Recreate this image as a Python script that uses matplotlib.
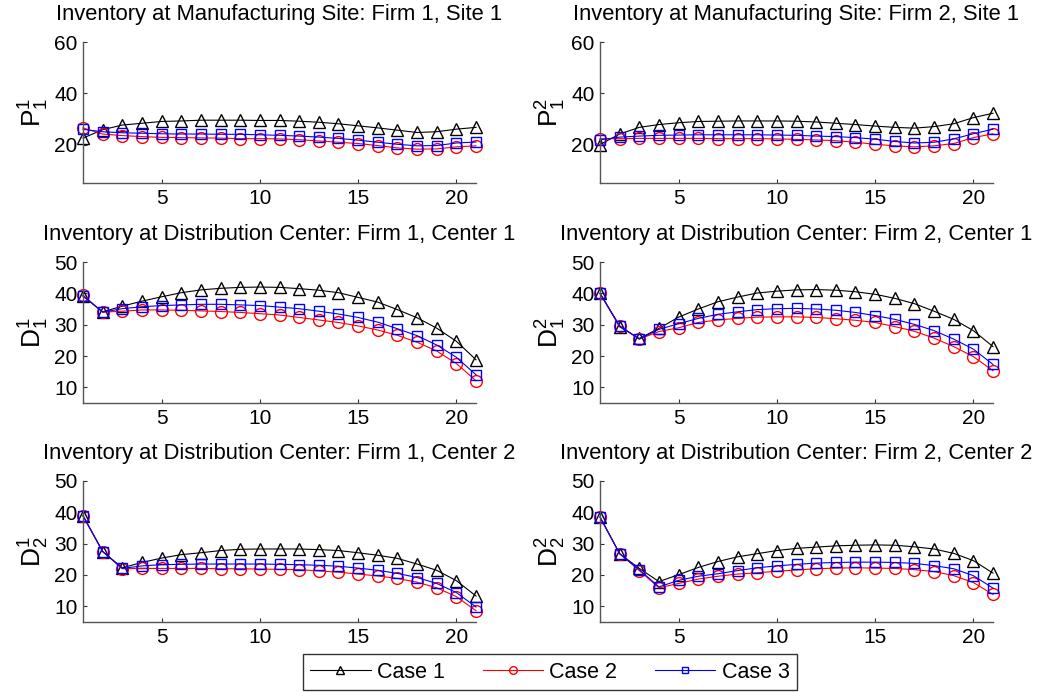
import numpy as np
import matplotlib
matplotlib.use("Agg")
import matplotlib.pyplot as plt

plt.rcParams['font.family'] = ['Liberation Sans', 'DejaVu Sans']
plt.rcParams['mathtext.fontset'] = 'custom'
plt.rcParams['mathtext.rm'] = 'Liberation Sans'
plt.rcParams['mathtext.it'] = 'Liberation Sans'

periods = np.arange(1, 22)
case_labels = ['Case 1', 'Case 2', 'Case 3']

# Firm 1, manufacturing site 1
p11_case1 = [22.5, 25.8, 27.6, 28.3, 29.0, 29.2, 29.5, 29.5, 29.5, 29.4, 29.4, 29.1, 28.7, 28.1, 27.3, 26.5, 25.6, 24.7, 25.0, 26.0, 26.7]
p11_case2 = [26.5, 24.1, 23.5, 23.1, 22.8, 22.7, 22.6, 22.5, 22.3, 22.3, 22.2, 21.9, 21.4, 20.9, 20.4, 19.6, 18.7, 18.2, 18.3, 19.1, 19.5]
p11_case3 = [25.9, 25.0, 24.6, 24.4, 24.2, 24.1, 24.1, 24.0, 24.0, 23.8, 23.6, 23.3, 22.9, 22.4, 21.7, 20.9, 20.1, 19.5, 19.6, 20.6, 21.0]

# Firm 2, manufacturing site 1
p21_case1 = [20.0, 24.1, 26.7, 27.8, 28.5, 29.0, 29.1, 29.2, 29.2, 29.2, 29.1, 28.8, 28.3, 27.8, 27.2, 26.7, 26.4, 27.0, 28.1, 30.5, 32.2]
p21_case2 = [22.3, 22.3, 22.4, 22.4, 22.4, 22.4, 22.3, 22.3, 22.3, 22.2, 22.0, 21.8, 21.5, 20.9, 20.1, 19.5, 19.1, 19.5, 20.4, 22.7, 24.2]
p21_case3 = [21.8, 22.9, 23.3, 23.6, 23.7, 23.8, 23.8, 23.8, 23.8, 23.7, 23.6, 23.3, 23.1, 22.7, 22.1, 21.2, 20.6, 20.9, 22.2, 24.2, 26.0]

# Firm 1, distribution center 1
d11_case1 = [39.1, 34.1, 35.9, 37.5, 38.9, 40.2, 41.1, 41.6, 41.9, 42.0, 41.9, 41.5, 41.0, 40.2, 38.7, 37.2, 34.8, 32.2, 28.9, 24.7, 18.8]
d11_case2 = [39.4, 34.0, 34.3, 34.7, 34.7, 34.6, 34.4, 34.2, 33.9, 33.5, 33.1, 32.3, 31.5, 30.7, 29.6, 28.3, 26.6, 24.4, 21.6, 17.6, 12.1]
d11_case3 = [39.2, 34.0, 35.1, 35.7, 36.1, 36.3, 36.5, 36.5, 36.3, 36.1, 35.6, 35.1, 34.3, 33.4, 32.3, 30.8, 28.7, 26.5, 23.5, 19.6, 14.0]

# Firm 2, distribution center 1
d21_case1 = [40.0, 29.3, 25.6, 28.8, 32.4, 35.0, 37.3, 38.8, 40.1, 40.7, 41.1, 41.2, 41.0, 40.5, 39.7, 38.4, 36.7, 34.3, 31.7, 28.1, 23.0]
d21_case2 = [40.0, 29.6, 25.4, 27.8, 29.0, 30.7, 31.5, 32.0, 32.4, 32.5, 32.5, 32.3, 31.9, 31.4, 30.7, 29.4, 27.9, 25.7, 23.0, 19.8, 15.3]
d21_case3 = [40.0, 29.6, 25.4, 28.5, 30.3, 32.0, 33.3, 34.1, 34.8, 35.1, 35.2, 35.0, 34.6, 33.9, 32.9, 31.7, 30.1, 28.1, 25.4, 22.2, 17.3]

# Firm 1, distribution center 2
d12_case1 = [38.9, 27.5, 22.3, 24.0, 25.4, 26.5, 27.1, 27.8, 28.2, 28.3, 28.3, 28.3, 28.1, 27.8, 27.1, 26.3, 25.3, 23.5, 21.5, 18.2, 13.3]
d12_case2 = [38.9, 27.5, 22.0, 22.1, 22.1, 22.1, 22.1, 22.0, 22.0, 21.9, 21.8, 21.7, 21.3, 20.9, 20.3, 19.7, 18.9, 17.7, 15.9, 13.1, 8.6]
d12_case3 = [38.9, 27.5, 22.1, 22.9, 23.3, 23.4, 23.5, 23.5, 23.5, 23.5, 23.4, 23.3, 23.1, 22.8, 22.2, 21.5, 20.5, 19.2, 17.3, 14.4, 9.8]

# Firm 2, distribution center 2
d22_case1 = [38.5, 26.8, 22.1, 17.9, 20.1, 22.4, 24.3, 25.8, 26.8, 27.8, 28.5, 28.9, 29.3, 29.5, 29.6, 29.5, 29.0, 28.3, 26.9, 24.6, 20.6]
d22_case2 = [38.5, 26.8, 21.4, 15.9, 17.3, 18.7, 19.6, 20.3, 20.7, 21.2, 21.6, 22.0, 22.2, 22.3, 22.2, 22.1, 21.7, 21.1, 19.8, 17.6, 13.8]
d22_case3 = [38.5, 26.8, 21.7, 16.2, 18.3, 19.6, 20.4, 21.4, 22.3, 22.9, 23.4, 23.8, 24.0, 24.1, 24.1, 24.0, 23.7, 23.0, 22.0, 19.8, 15.8]

panels = [
    ('Inventory at Manufacturing Site: Firm 1, Site 1', r'$\mathrm{P}^1_1$', (p11_case1, p11_case2, p11_case3), (5, 60), [20, 40, 60]),
    ('Inventory at Manufacturing Site: Firm 2, Site 1', r'$\mathrm{P}^2_1$', (p21_case1, p21_case2, p21_case3), (5, 60), [20, 40, 60]),
    ('Inventory at Distribution Center: Firm 1, Center 1', r'$\mathrm{D}^1_1$', (d11_case1, d11_case2, d11_case3), (5, 50), [10, 20, 30, 40, 50]),
    ('Inventory at Distribution Center: Firm 2, Center 1', r'$\mathrm{D}^2_1$', (d21_case1, d21_case2, d21_case3), (5, 50), [10, 20, 30, 40, 50]),
    ('Inventory at Distribution Center: Firm 1, Center 2', r'$\mathrm{D}^1_2$', (d12_case1, d12_case2, d12_case3), (5, 50), [10, 20, 30, 40, 50]),
    ('Inventory at Distribution Center: Firm 2, Center 2', r'$\mathrm{D}^2_2$', (d22_case1, d22_case2, d22_case3), (5, 50), [10, 20, 30, 40, 50]),
]

styles = [('black', '^', 8.5), ('red', 'o', 8.5), ('blue', 's', 6.5)]

W, H = 1039, 692
fig = plt.figure(figsize=(W / 100, H / 100), dpi=100)

lefts = [83, 600]
tops = [42, 262, 481]
ax_w, ax_h = 393, 141

handles = []
for n, (title, ylab, series, ylim, yticks) in enumerate(panels):
    row, col = divmod(n, 2)
    ax = fig.add_axes([lefts[col] / W, 1 - (tops[row] + ax_h) / H, ax_w / W, ax_h / H])
    for (c, m, ms), vals, lab in zip(styles, series, case_labels):
        h, = ax.plot(periods, vals, color=c, marker=m, markersize=ms, markerfacecolor='none',
                     markeredgecolor=c, linewidth=0.8, markeredgewidth=1.0, label=lab,
                     clip_on=False)
        if n == 0:
            handles.append(h)
    ax.set_xlim(1, 21)
    ax.set_ylim(*ylim)
    ax.set_xticks([5, 10, 15, 20])
    ax.set_yticks(yticks)
    ax.set_title(title, fontsize=15.8, pad=16)
    ax.set_ylabel(ylab, fontsize=19, labelpad=2)
    for s in ['top', 'right']:
        ax.spines[s].set_visible(False)
    for s in ['left', 'bottom']:
        ax.spines[s].set_color('#555555')
        ax.spines[s].set_linewidth(1.0)
    ax.tick_params(direction='in', length=3, width=0.8, color='#333333', labelsize=15, pad=4)

leg = fig.legend(handles, case_labels, loc='center', bbox_to_anchor=(550 / W, 1 - 672 / H),
                 ncol=3, fontsize=15.5, frameon=True, fancybox=False, edgecolor='black',
                 handlelength=2.8, handletextpad=0.3, columnspacing=1.75, markerscale=0.65,
                 borderpad=0.35)
leg.get_frame().set_linewidth(1.0)

fig.savefig('out.png', dpi=100)
